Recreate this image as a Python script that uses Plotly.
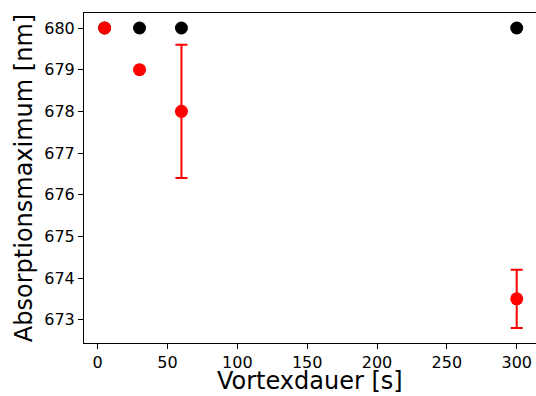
import plotly.graph_objects as go

black_x = [5, 30, 60, 300]
black_y = [680, 680, 680, 680]

red_x = [5, 30, 60, 300]
red_y = [680, 679, 678, 673.5]
red_err = [0, 0, 1.6, 0.7]

x_ticks = [0, 50, 100, 150, 200, 250, 300]
y_ticks = [673, 674, 675, 676, 677, 678, 679, 680]

fig = go.Figure()
fig.add_trace(go.Scatter(
    x=black_x, y=black_y, mode="markers",
    marker=dict(color="black", size=13, line=dict(width=0)),
    showlegend=False,
))
fig.add_trace(go.Scatter(
    x=red_x, y=red_y, mode="markers",
    marker=dict(color="red", size=13, line=dict(width=0)),
    error_y=dict(type="data", array=red_err, visible=True, color="red",
                 thickness=2, width=6),
    showlegend=False,
))

font = "DejaVu Sans"
fig.update_layout(
    width=536, height=396,
    margin=dict(l=84, r=0, t=13, b=53),
    plot_bgcolor="white", paper_bgcolor="white",
    font=dict(family=font, color="black"),
    xaxis=dict(
        range=[-9.75, 313.8], tickvals=x_ticks, ticktext=[str(v) for v in x_ticks],
        showgrid=False, zeroline=False, showline=True, linecolor="black",
        linewidth=1, mirror=True, ticks="outside", ticklen=5, tickcolor="black",
        tickfont=dict(size=16, family=font), automargin=False,
    ),
    yaxis=dict(
        range=[672.44, 680.36], tickvals=y_ticks, ticktext=[str(v) for v in y_ticks],
        showgrid=False, zeroline=False, showline=True, linecolor="black",
        linewidth=1, mirror=False, ticks="outside", ticklen=5, tickcolor="black",
        tickfont=dict(size=16, family=font), automargin=False,
        title=dict(text="Absorptionsmaximum [nm]", font=dict(size=24, family=font), standoff=4),
    ),
    annotations=[dict(
        text="Vortexdauer [s]", xref="x domain", yref="paper",
        x=(310 - 84) / 452, y=0, xanchor="center", yanchor="bottom",
        yshift=-53, showarrow=False, borderpad=0,
        font=dict(size=24, family=font, color="black"),
    )],
)

fig.write_html(
    "out.html",
    config={"displayModeBar": False},
    post_script="document.body.style.margin='0';document.body.style.overflow='hidden';",
)
